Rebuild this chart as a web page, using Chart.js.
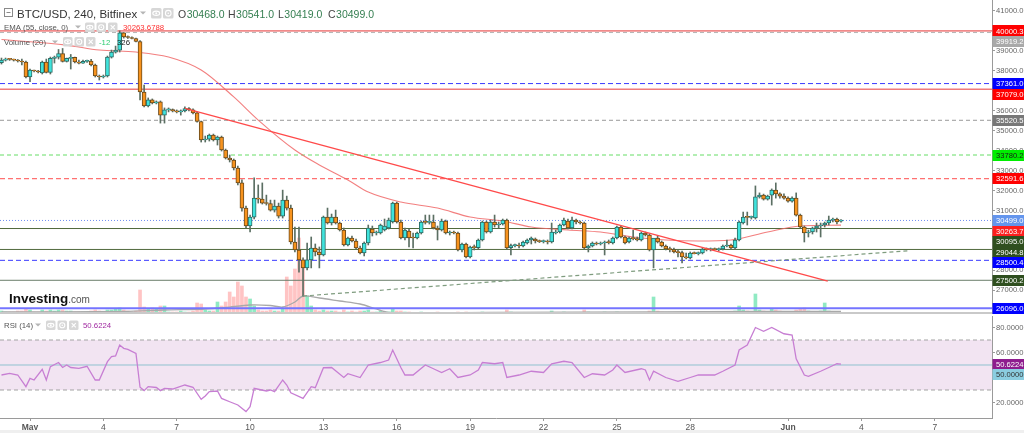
<!DOCTYPE html>
<html><head><meta charset="utf-8"><title>BTC/USD</title>
<script src="https://cdn.jsdelivr.net/npm/chart.js@4.4.1/dist/chart.umd.min.js"></script>
<style>
html,body{margin:0;padding:0;background:#fff;overflow:hidden}
#wrap{position:relative;width:1024px;height:433px}
#pc{position:absolute;left:0;top:0}
#rc{position:absolute;left:0;top:314px}
</style></head><body>
<div id="wrap"><canvas id="pc" width="1024" height="314"></canvas><canvas id="rc" width="1024" height="119"></canvas></div>
<script>
// ---------------- DATA ----------------
const candleStartHour = -28;   // hours relative to May 1 00:00 (Apr 29 20:00)
const candleStepHours = 4;     // 240-minute candles
const opens = [38410,38540,38590,38570,38540,38490,38440,37690,38020,37990,
 37890,38440,37920,38620,38690,38870,38470,38620,38670,38440,
 38380,38470,38490,38290,37740,37690,37740,38690,38940,39040,
 39900,39700,39670,39620,39470,36940,36240,36540,36390,36440,
 35780,36040,36060,35990,35940,35990,36110,36040,35890,35460,
 34530,34580,34780,34530,34680,34030,33630,33530,33130,32380,
 31120,30220,30670,31620,31570,31370,31350,31020,31220,30720,
 31520,31120,29420,29020,28520,28120,28520,29120,28920,28770,
 30670,30370,30670,30370,30020,29270,29620,29470,29120,28870,
 29370,30070,29870,29870,30020,30120,30420,31370,30420,29620,
 29970,29670,29620,29870,30420,30400,30420,30120,30020,30470,
 29870,29920,29870,29020,29320,28670,29170,29140,29520,30420,
 29920,30420,30270,30320,30520,29140,29240,29270,29220,29370,
 29520,29570,29470,29440,29470,29420,29870,29920,30270,30470,
 30120,30520,30420,30370,29120,29220,29370,29320,29370,29420,
 29370,29620,30170,29670,29420,29620,29590,29520,29870,29770,
 29020,29620,29420,29220,29070,29040,28920,28890,28670,28620,
 28870,28840,28870,29070,29040,29070,29040,29070,29220,29270,
 29120,29520,30370,30670,30650,30620,31680,31770,31570,31770,
 32020,31830,31720,31620,31470,31620,30770,30170,29870,29920,
 30120,30220,30270,30370,30520,30570,30468];
const highs = [38640,38640,38620,38590,38570,38590,38490,38090,38040,38020,
 38490,38590,38690,38740,39070,39120,38640,38820,38690,38540,
 38540,38540,38570,38340,37790,37790,38740,39040,39240,40000,
 39920,39750,39700,39640,39520,37290,36640,36590,36490,36490,
 36140,36140,36090,36040,36040,36190,36160,36090,35940,35480,
 34730,34830,34830,34730,34730,34080,33780,33580,33230,32530,
 31220,30770,32630,32280,32380,31770,31520,31520,31370,32020,
 31720,31270,30170,30170,28620,29370,29670,29320,29170,30720,
 31120,30820,31020,30420,30120,29670,29720,29570,29220,29420,
 30270,30220,29970,30320,30570,30620,31420,31420,30520,30120,
 30070,29870,29920,30470,30770,30770,30770,30220,30570,30520,
 29970,29970,29920,29370,29370,29220,29270,29570,30470,30470,
 30520,30770,30420,30570,30570,29320,29320,29370,29470,29570,
 29670,29620,29520,29520,29520,30370,30020,30320,30620,30570,
 30670,30570,30470,30420,29270,29420,29420,29420,29470,29520,
 29670,30220,30220,29720,29670,30020,29670,29920,29920,29820,
 29420,29720,29470,29270,29170,29120,29020,28970,28870,28920,
 28920,28920,29120,29120,29120,29120,29120,29270,29520,29320,
 29620,30470,30920,30920,30720,32230,31880,31820,31770,32080,
 32380,31880,31830,31680,31680,31880,30820,30220,30020,30170,
 30370,30370,30420,30720,30620,30620,30541];
const lows = [38340,38490,38520,38490,38440,38290,37640,37450,37940,37890,
 37840,37890,37840,38390,38590,38440,38440,38090,38390,38340,
 38370,38420,38240,37690,37540,37640,37690,38640,38890,38940,
 39640,39620,39600,39450,36540,36190,36190,36340,36340,35380,
 35380,35940,35940,35890,35780,35940,35990,35840,35430,34430,
 34430,34480,34480,34280,33980,33580,33430,33030,32280,30970,
 30120,29920,30570,31370,31320,31270,30970,30920,30620,30620,
 31020,29320,28920,27910,26710,28020,28120,28720,28120,28720,
 30320,30270,30320,29970,29220,29220,29420,29070,28820,28720,
 29270,29720,29770,29820,29970,30070,30370,30370,29570,29520,
 29170,29120,29570,29820,30320,30320,30070,29520,29970,29820,
 29770,29820,28970,28920,28620,28620,29020,29070,29470,29870,
 29870,30170,30120,30270,29070,28770,29170,29120,29170,29320,
 29320,29370,29390,29370,29320,29370,29820,29870,30220,30070,
 30070,30320,30320,29070,28920,29170,29270,29270,28770,29320,
 29320,29570,29620,29320,29370,29520,29470,29470,29720,28970,
 28120,29370,29170,29020,28920,28870,28670,28370,28570,28570,
 28820,28770,28820,28970,28970,29020,28970,29020,29170,29070,
 29070,29470,30320,30270,30570,30570,31620,31520,31520,31270,
 31620,31620,31570,31420,31420,30720,30120,29420,29670,29820,
 29920,29670,30170,30270,30420,30320,30419];
const closes = [38540,38590,38570,38540,38490,38440,37690,38040,37990,37940,
 38440,37920,38620,38690,38870,38470,38620,38670,38440,38380,
 38470,38490,38290,37740,37690,37740,38690,38940,39040,39900,
 39700,39670,39620,39470,36940,36240,36540,36390,36440,35780,
 36040,36060,35990,35940,35990,36110,36040,35890,35460,34530,
 34580,34780,34530,34680,34030,33630,33530,33130,32380,31120,
 30220,30670,31620,31570,31370,31350,31020,31220,30720,31520,
 31120,29420,29020,28520,28120,28520,29120,28920,28770,30670,
 30370,30670,30370,30020,29270,29620,29470,29120,28870,29370,
 30120,29870,29920,30270,30220,30520,31370,30420,29620,30020,
 29620,29620,29870,30420,30400,30420,30120,30020,30470,29870,
 29920,29870,29020,29320,28670,29170,29140,29520,30420,29920,
 30420,30270,30320,30520,29120,29240,29270,29220,29420,29520,
 29620,29470,29440,29470,29420,29920,29920,30270,30520,30120,
 30520,30420,30370,29120,29220,29370,29320,29370,29420,29390,
 29620,30170,29670,29370,29620,29590,29520,29870,29770,29020,
 29620,29420,29220,29070,29040,28920,28890,28670,28620,28870,
 28840,28870,29070,29040,29070,29040,29070,29220,29270,29120,
 29520,30420,30670,30650,30670,31680,31770,31570,31720,32020,
 31830,31720,31620,31470,31620,30770,30170,29870,29920,30120,
 30220,30270,30370,30520,30570,30420,30499];
const volumes = [270,180,180,180,270,270,450,360,180,180,
 360,270,360,270,360,360,270,270,180,180,
 180,180,270,360,270,180,360,360,450,540,
 360,270,180,270,2160,630,450,540,450,720,
 720,180,180,180,270,180,180,270,990,900,
 360,270,270,1080,720,1080,1980,1530,2880,2520,
 1530,1350,720,360,270,270,360,270,270,450,
 3330,2520,4050,6840,4500,1620,720,360,270,360,
 270,270,270,180,360,180,270,180,270,270,
 360,180,180,270,180,180,450,270,270,180,
 180,135,135,180,135,90,135,180,135,135,
 90,90,180,135,180,135,90,135,180,135,
 135,90,90,135,360,180,90,90,135,90,
 135,90,90,90,90,270,135,135,180,135,
 135,90,90,360,180,135,90,90,180,90,
 135,180,135,135,90,135,90,135,90,270,
 1530,270,180,135,90,135,135,180,135,135,
 90,90,135,90,90,90,90,135,135,135,
 270,720,360,270,180,1800,360,270,180,450,
 360,270,180,180,180,360,450,540,270,180,
 180,270,990,270,180,135,90];
const volMaIdx = [0,30,40,50,55,61,66,69,72,74,78,83,88,92,95,120,160,185,206];
const volMaVal = [180,225,360,450,585,810,765,630,1080,1620,1440,1170,900,450,150,140,180,230,230];
const emaIdx = [0,16,24,33,41,49,57,63,72,78,85,90,98,107,115,123,130,139,147,155,163,171,179,188,196,206];
const emaVal = [39570,39290,39040,38940,38690,38040,36690,35530,34030,33280,32530,31920,31420,31120,30670,30470,30170,30020,29920,29670,29520,29470,29520,29920,30220,30264];
const rsiIdx = [0,2,4,6,7,8,10,11,12,14,15,16,17,19,21,23,24,26,27,28,29,30,31,33,34,35,36,38,39,40,42,45,47,49,50,51,53,54,56,58,60,61,62,63,65,66,67,69,70,71,74,76,77,79,81,84,85,88,90,93,95,96,98,99,101,104,106,108,110,112,115,117,118,121,123,124,127,130,133,135,138,140,143,145,148,150,151,153,157,158,159,160,163,166,169,171,175,177,180,181,183,185,187,189,192,194,195,197,198,201,203,205,206];
const rsiVal = [42,43.3,42,32.7,39.3,38,46.5,38,48.7,52,48,50,48,47.3,49,38,38,52.7,56.7,57.3,66,63.3,62.5,59.3,32.2,29.5,32.7,32,29.5,31.3,30.8,34,32.2,22.5,25.2,28.7,29.2,23.3,20.6,18,12.7,16.7,31.3,30.6,29.2,30,28.7,38,34,27.8,23.3,32.7,31.8,47.8,48,40,43,40,50,52,54,62,48,42,42,50,47,44,47,40,42,46,52,51,52,40,42,45,44,51,53,52,40,43,42,46,50,44,47,46,38,45,40,37,40,42,42,45,50,62,66,80,77,80,75,74,55,42,41,45,48,51,50.6224];
const levelValues = [40000.3, 39919.2, 37361.0, 37079.0, 35520.5, 33780.2, 32591.6, 30499.0, 30095.0, 29044.8, 28500.4, 27500.2, 26096.0];
const emaLast = 30263.6788;
const rsiLast = 50.6224;
const rsiBandTop = 70, rsiMid = 50, rsiBandBottom = 30;
const trendRedT = [152, 783], trendRedP = [36120, 27460];
const trendDashT = [268, 864], trendDashP = [26710, 28990];
const priceTicks = [26000,27000,28000,29000,30000,31000,32000,33000,34000,35000,36000,37000,38000,39000,40000,41000];
const rsiTicks = [20,40,60,80];
const tickHours = [0,72,144,216,288,360,432,504,576,648,744,816,888];
const tickLabels = ['May','4','7','10','13','16','19','22','25','28','Jun','4','7'];
const titleText = 'BTC/USD, 240, Bitfinex';
const ohlcNames = ['O','H','L','C'];
const ohlcValues = [30468.0, 30541.0, 30419.0, 30499.0];
const emaLegend = 'EMA (55, close, 0)';
const volLegend = 'Volume (20)';
const volLegendValues = ['-12', '326'];
const rsiLegend = 'RSI (14)';

// ---------------- STYLES / AXES ----------------
const FONT = '"Liberation Sans", Arial, Helvetica, sans-serif';
const xMin = -29.45, xMax = 944.2;
const priceMin = 25810, priceMax = 41550;
const rsiMin = 7.6, rsiMax = 89.2;
const levelStyles = [
 {line:'#f08a8a', w:1.6, dash:[], bg:'#ff0000', fg:'#fff'},
 {line:'#b5b5b5', w:1, dash:[4,3], bg:'#a9a9a9', fg:'#fff'},
 {line:'#3a3aff', w:1, dash:[5,3], bg:'#0000ff', fg:'#fff'},
 {line:'#f07a7a', w:1.6, dash:[], bg:'#ff0000', fg:'#fff'},
 {line:'#9a9a9a', w:1, dash:[4,3], bg:'#787878', fg:'#fff'},
 {line:'#66dd66', w:1, dash:[4,3], bg:'#00ee00', fg:'#1a1a1a'},
 {line:'#ff4d4d', w:1, dash:[5,3], bg:'#ff0000', fg:'#fff'},
 {line:'#6f8ff0', w:1, dash:[1,2], bg:'#6495ed', fg:'#fff'},
 {line:'#50693c', w:1, dash:[], bg:'#2f4f1f', fg:'#fff'},
 {line:'#50693c', w:1, dash:[], bg:'#2f4f1f', fg:'#fff'},
 {line:'#3a3aff', w:1, dash:[5,3], bg:'#0000ff', fg:'#fff'},
 {line:'#6a7d6a', w:1, dash:[], bg:'#2f4f1f', fg:'#fff'},
 {line:'#7474ff', w:2, dash:[], bg:'#0000ff', fg:'#fff'}
];
const UP_FILL = '#3fe3dc', DOWN_FILL = '#f7931e';
const UP_EDGE = '#2d6b64', DOWN_EDGE = '#6b4a1c';
const WICK = '#5b6f63';

const candleTimes = opens.map((_, i) => candleStartHour + i * candleStepHours);
const isUp = closes.map((c, i) => c >= opens[i]);

// ---------------- HELPERS ----------------
function rrect(c, x, y, w, h, r) {
  c.beginPath(); c.moveTo(x + r, y); c.lineTo(x + w - r, y); c.quadraticCurveTo(x + w, y, x + w, y + r);
  c.lineTo(x + w, y + h - r); c.quadraticCurveTo(x + w, y + h, x + w - r, y + h); c.lineTo(x + r, y + h);
  c.quadraticCurveTo(x, y + h, x, y + h - r); c.lineTo(x, y + r); c.quadraticCurveTo(x, y, x + r, y); c.closePath();
}
function icon(c, x, y, s, kind) {
  c.fillStyle = '#d7d7d7'; rrect(c, x, y, s, s, 1.5); c.fill();
  c.strokeStyle = '#fff'; c.fillStyle = '#fff'; c.lineWidth = 1.1;
  const cx = x + s / 2, cy = y + s / 2;
  if (kind === 'eye') { c.beginPath(); c.ellipse(cx, cy, s * 0.33, s * 0.2, 0, 0, Math.PI * 2); c.stroke(); c.beginPath(); c.arc(cx, cy, 1, 0, Math.PI * 2); c.fill(); }
  else if (kind === 'gear') { c.beginPath(); c.arc(cx, cy, s * 0.27, 0, Math.PI * 2); c.stroke(); c.beginPath(); c.arc(cx, cy, 0.8, 0, Math.PI * 2); c.fill(); }
  else { c.beginPath(); c.moveTo(x + s * 0.28, y + s * 0.28); c.lineTo(x + s * 0.72, y + s * 0.72); c.moveTo(x + s * 0.72, y + s * 0.28); c.lineTo(x + s * 0.28, y + s * 0.72); c.stroke(); }
}
function caret(c, x, y) { c.fillStyle = '#b5b5b5'; c.beginPath(); c.moveTo(x, y); c.lineTo(x + 6, y); c.lineTo(x + 3, y + 3); c.closePath(); c.fill(); }
function drawAxisLabels(chart, scaleId, items) {
  const c = chart.ctx, sc = chart.scales[scaleId];
  const arr = items.map(it => Object.assign({}, it, {y: sc.getPixelForValue(it.value)})).sort((a, b) => a.y - b.y);
  let prev = -1e9;
  arr.forEach(it => { it.ly = Math.max(it.y, prev + 10.6); prev = it.ly; });
  c.save();
  c.font = '7.6px ' + FONT; c.textBaseline = 'middle'; c.textAlign = 'left';
  arr.forEach(it => {
    c.fillStyle = it.bg; c.fillRect(sc.left + 0.5, Math.round(it.ly - 5.5), chart.width - sc.left, 11);
    c.fillStyle = it.fg; c.fillText(it.text, sc.left + 4, it.ly + 0.5);
  });
  c.restore();
}

// ---------------- PRICE CHART ----------------
const priceLabelItems = levelValues.map((v, k) => ({value: v, text: v.toFixed(1), bg: levelStyles[k].bg, fg: levelStyles[k].fg}))
  .concat([{value: emaLast, text: emaLast.toFixed(1), bg: '#ff1f1f', fg: '#fff'}]);

const pricePlugin = {
  id: 'pricePlugin',
  afterDatasetsDraw(chart) {
    const c = chart.ctx; c.save();
    c.fillStyle = '#c9c9c9'; c.fillRect(0, 312, chart.chartArea.right, 2);
    c.restore();
  },
  afterDraw(chart) {
    drawAxisLabels(chart, 'y', priceLabelItems);
    const c = chart.ctx; c.save();
    c.textBaseline = 'alphabetic'; c.textAlign = 'left';
    c.strokeStyle = '#8a8a8a'; c.lineWidth = 1; c.strokeRect(4.5, 8.5, 8, 8);
    c.beginPath(); c.moveTo(6.5, 12.5); c.lineTo(10.5, 12.5); c.stroke();
    c.fillStyle = '#333'; c.font = '11.5px ' + FONT; c.fillText(titleText, 17, 17.5);
    caret(c, 140, 11.5);
    icon(c, 151, 8, 10.5, 'eye'); icon(c, 163, 8, 10.5, 'gear');
    c.font = '10.5px ' + FONT;
    ohlcNames.forEach((n, k) => {
      const x = 178 + k * 50;
      c.fillStyle = '#444'; c.fillText(n, x, 17.5);
      const w = c.measureText(n).width;
      c.fillStyle = '#347e50'; c.fillText(ohlcValues[k].toFixed(1), x + w + 0.5, 17.5);
    });
    c.font = '7.8px ' + FONT; c.fillStyle = '#555'; c.fillText(emaLegend, 4, 29.5);
    caret(c, 75, 25.5);
    icon(c, 85, 22.5, 9.5, 'eye'); icon(c, 96.5, 22.5, 9.5, 'gear'); icon(c, 108, 22.5, 9.5, 'x');
    c.fillStyle = '#ff3030'; c.fillText(emaLast.toFixed(4), 123, 29.5);
    c.fillStyle = '#555'; c.fillText(volLegend, 4, 44.5);
    caret(c, 52, 40.5);
    icon(c, 63, 37, 9.5, 'eye'); icon(c, 74.5, 37, 9.5, 'gear'); icon(c, 86, 37, 9.5, 'x');
    c.fillStyle = '#2ecc71'; c.fillText(volLegendValues[0], 99, 44.5);
    c.fillStyle = '#222'; c.fillText(volLegendValues[1], 117, 44.5);
    c.fillStyle = '#111'; c.font = 'bold 13.5px ' + FONT; c.fillText('Investing', 9, 302.5);
    const lw = c.measureText('Investing').width;
    c.fillStyle = '#555'; c.font = '10px ' + FONT; c.fillText('.com', 9 + lw, 302.5);
    c.restore();
  }
};

const priceDatasets = [];
priceDatasets.push({type: 'bar', label: 'Volume', yAxisID: 'yv', grouped: false, barThickness: 3, order: 30,
  data: volumes.map((v, i) => ({x: candleTimes[i], y: v})),
  backgroundColor: isUp.map(u => u ? 'rgba(70,220,155,0.6)' : 'rgba(255,125,125,0.45)')});
priceDatasets.push({type: 'line', label: 'Volume MA', yAxisID: 'yv', order: 29, pointRadius: 0, borderWidth: 1.3,
  borderColor: '#a9a9a9', tension: 0.3, data: volMaIdx.map((k, j) => ({x: candleTimes[k], y: volMaVal[j]}))});
levelValues.forEach((v, k) => priceDatasets.push({type: 'line', label: 'L' + k, order: 20, pointRadius: 0,
  borderColor: levelStyles[k].line, borderWidth: levelStyles[k].w, borderDash: levelStyles[k].dash,
  data: [{x: xMin, y: v}, {x: xMax, y: v}]}));
priceDatasets.push({type: 'line', label: 'EMA', order: 15, pointRadius: 0, borderWidth: 1.1,
  borderColor: 'rgba(240,105,105,0.85)', cubicInterpolationMode: 'monotone',
  data: emaIdx.map((k, j) => ({x: candleTimes[k], y: emaVal[j]}))});
priceDatasets.push({type: 'bar', label: 'Wicks', grouped: false, barThickness: 1, order: 8,
  data: candleTimes.map((t, i) => ({x: t, y: [lows[i], highs[i]]})), backgroundColor: WICK});
priceDatasets.push({type: 'bar', label: 'Bodies', grouped: false, barThickness: 4, minBarLength: 1, order: 7,
  borderWidth: 1, borderSkipped: false,
  data: candleTimes.map((t, i) => ({x: t, y: [opens[i], closes[i]]})),
  backgroundColor: isUp.map(u => u ? UP_FILL : DOWN_FILL), borderColor: isUp.map(u => u ? UP_EDGE : DOWN_EDGE)});
priceDatasets.push({type: 'line', label: 'Trend', order: 2, pointRadius: 0, borderWidth: 1.3, borderColor: '#ff4a4a',
  data: trendRedT.map((t, j) => ({x: t, y: trendRedP[j]}))});
priceDatasets.push({type: 'line', label: 'Support', order: 1, pointRadius: 0, borderWidth: 1.2, borderColor: '#7f9c7f', borderDash: [4, 3],
  data: trendDashT.map((t, j) => ({x: t, y: trendDashP[j]}))});

new Chart(document.getElementById('pc'), {
  type: 'bar',
  data: {datasets: priceDatasets},
  options: {
    responsive: false, animation: false, devicePixelRatio: 1,
    layout: {padding: 0},
    plugins: {legend: {display: false}, tooltip: {enabled: false}},
    scales: {
      x: {type: 'linear', min: xMin, max: xMax, display: false, offset: false, grid: {offset: false}},
      y: {type: 'linear', position: 'right', min: priceMin, max: priceMax,
        afterFit(s) { s.width = 32; s.paddingTop = 0; s.paddingBottom = 0; },
        afterBuildTicks(s) { s.ticks = priceTicks.map(v => ({value: v})); },
        ticks: {autoSkip: false, padding: 1, color: '#666', font: {family: FONT, size: 7.6}, callback: v => Number(v).toFixed(1)},
        grid: {drawOnChartArea: false, tickLength: 3, color: '#9a9a9a'},
        border: {display: true, color: '#9a9a9a'}},
      yv: {type: 'linear', display: false, min: 0, max: 28260}
    }
  },
  plugins: [pricePlugin]
});

// ---------------- RSI CHART ----------------
const rsiLabelItems = [
  {value: rsiLast, text: rsiLast.toFixed(4), bg: '#8e1c8e', fg: '#fff'},
  {value: rsiMid, text: rsiMid.toFixed(4), bg: '#8bcde0', fg: '#333'}
];
const rsiPlugin = {
  id: 'rsiPlugin',
  afterDraw(chart) {
    drawAxisLabels(chart, 'y', rsiLabelItems);
    const c = chart.ctx; c.save();
    c.textBaseline = 'alphabetic'; c.textAlign = 'left';
    c.font = '7.8px ' + FONT; c.fillStyle = '#555'; c.fillText(rsiLegend, 4, 13.5);
    caret(c, 35, 9.5);
    icon(c, 46, 6.5, 9.5, 'eye'); icon(c, 57.5, 6.5, 9.5, 'gear'); icon(c, 69, 6.5, 9.5, 'x');
    c.fillStyle = '#a12aa1'; c.fillText(rsiLast.toFixed(4), 83, 13.5);
    c.fillStyle = '#efefef'; c.fillRect(0, 116, chart.width, 3);
    c.restore();
  }
};
const flat = v => [{x: xMin, y: v}, {x: xMax, y: v}];
new Chart(document.getElementById('rc'), {
  type: 'line',
  data: {datasets: [
    {label: 'band70', data: flat(rsiBandTop), fill: '+1', backgroundColor: '#f2e4f2', borderColor: '#a3a3a3', borderWidth: 1, borderDash: [4, 3], pointRadius: 0, order: 5},
    {label: 'band30', data: flat(rsiBandBottom), fill: false, borderColor: '#a3a3a3', borderWidth: 1, borderDash: [4, 3], pointRadius: 0, order: 4},
    {label: 'mid', data: flat(rsiMid), fill: false, borderColor: '#8fc1cf', borderWidth: 1, pointRadius: 0, order: 3},
    {label: 'RSI', data: rsiIdx.map((k, j) => ({x: candleTimes[k], y: rsiVal[j]})), fill: false, borderColor: '#c77ed3', borderWidth: 1.3, pointRadius: 0, order: 1}
  ]},
  options: {
    responsive: false, animation: false, devicePixelRatio: 1,
    layout: {padding: {top: 2, left: 0, right: 0, bottom: 0}},
    plugins: {legend: {display: false}, tooltip: {enabled: false}},
    scales: {
      x: {type: 'linear', min: xMin, max: xMax,
        afterFit(s) { s.height = 15; s.paddingLeft = 0; s.paddingRight = 0; },
        afterBuildTicks(s) { s.ticks = tickHours.map(v => ({value: v})); },
        ticks: {autoSkip: false, maxRotation: 0, padding: 2, color: '#555',
          font: ctx => ({family: FONT, size: 8.5, weight: /[A-Za-z]/.test(tickLabels[ctx.index] || '') ? 'bold' : 'normal'}),
          callback: (v, i) => tickLabels[i]},
        grid: {drawOnChartArea: false, tickLength: 3, color: '#9a9a9a'},
        border: {display: true, color: '#9a9a9a'}},
      y: {type: 'linear', position: 'right', min: rsiMin, max: rsiMax,
        afterFit(s) { s.width = 32; s.paddingTop = 0; s.paddingBottom = 0; },
        afterBuildTicks(s) { s.ticks = rsiTicks.map(v => ({value: v})); },
        ticks: {autoSkip: false, padding: 1, color: '#666', font: {family: FONT, size: 7.6}, callback: v => Number(v).toFixed(4)},
        grid: {drawOnChartArea: false, tickLength: 3, color: '#9a9a9a'},
        border: {display: true, color: '#9a9a9a'}}
    }
  },
  plugins: [rsiPlugin]
});
</script></body></html>
